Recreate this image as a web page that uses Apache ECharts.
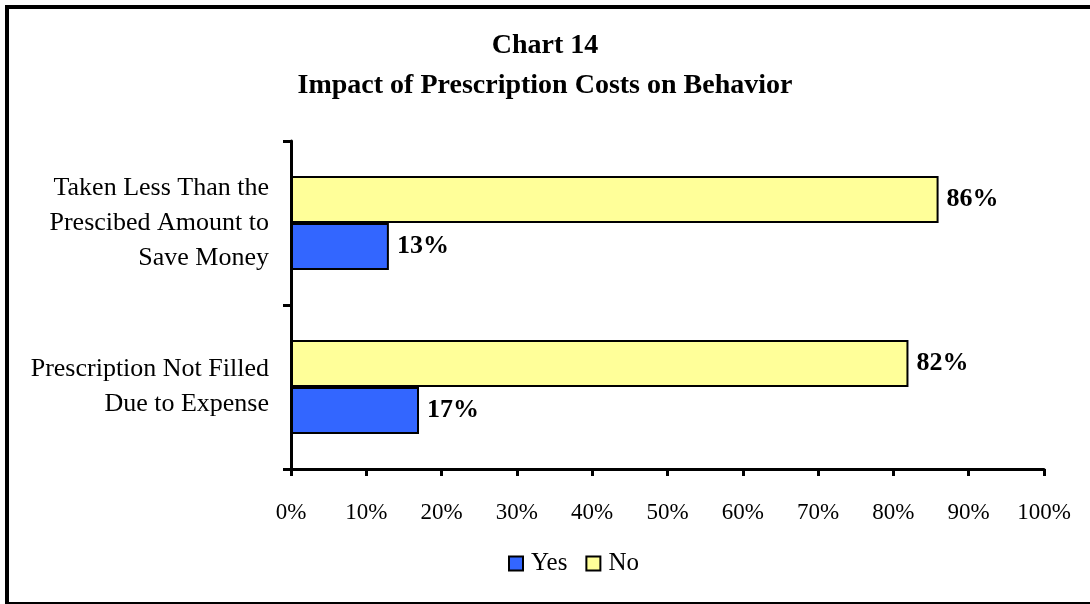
<!DOCTYPE html>
<html>
<head>
<meta charset="utf-8">
<script src="https://cdn.jsdelivr.net/npm/echarts@6/dist/echarts.min.js"></script>
<style>
  html, body { margin: 0; padding: 0; background: #fff; }
  #chart { width: 1090px; height: 604px; }
</style>
</head>
<body>
<div id="chart"></div>
<script>
// categories bottom -> top (category axis runs upward)
const categories = [
  'Prescription Not Filled\nDue to Expense',
  'Taken Less Than the\nPrescibed Amount to\nSave Money'
]
const yesValues = [17, 13]   // Yes (%)
const noValues = [82, 86]    // No (%)
const seriesNames = ['Yes', 'No']

const serif = '"Liberation Serif", "Times New Roman", serif'
const chart = echarts.init(document.getElementById('chart'))

const labelStyle = {
  show: true, position: 'right', distance: 8,
  formatter: '{c}%', color: '#000', fontFamily: serif, fontWeight: 'bold', fontSize: 26
}

chart.setOption({
  animation: false,
  title: {
    text: 'Chart 14\nImpact of Prescription Costs on Behavior',
    left: 'center', top: 21,
    textStyle: { fontFamily: serif, fontWeight: 'bold', fontSize: 28, color: '#000', lineHeight: 40 }
  },
  graphic: [{
    type: 'rect', shape: { x: 7, y: 7, width: 1100, height: 597 },
    style: { fill: 'none', stroke: '#000', lineWidth: 4 }, z: 100
  }],
  legend: {
    data: seriesNames, bottom: 23, left: 503,
    itemWidth: 14, itemHeight: 14, itemGap: 18,
    icon: 'rect',
    textStyle: { fontFamily: serif, fontSize: 25, color: '#000', padding: [0, 0, 0, 3] }
  },
  grid: { left: 291, right: 46, top: 141, bottom: 135, containLabel: false },
  xAxis: {
    type: 'value', min: 0, max: 100, interval: 10,
    axisLine: { show: true, lineStyle: { color: '#000', width: 3 } },
    axisTick: { show: true, length: 7, lineStyle: { color: '#000', width: 3 } },
    axisLabel: { formatter: '{value}%', color: '#000', fontFamily: serif, fontSize: 23, margin: 32 },
    splitLine: { show: false }
  },
  yAxis: {
    type: 'category', data: categories,
    axisLine: { show: true, lineStyle: { color: '#000', width: 3 } },
    axisTick: { show: true, length: 8, alignWithLabel: false, lineStyle: { color: '#000', width: 3 } },
    axisLabel: { color: '#000', fontFamily: serif, fontSize: 26, lineHeight: 35, margin: 22, align: 'right' }
  },
  series: [
    {
      name: 'No', type: 'bar', data: noValues,
      barWidth: 47, barGap: '0%',
      itemStyle: { color: '#FFFF99', borderColor: '#000', borderWidth: 2 },
      label: labelStyle
    },
    {
      name: 'Yes', type: 'bar', data: yesValues,
      barWidth: 47, barGap: '0%',
      itemStyle: { color: '#3366FF', borderColor: '#000', borderWidth: 2 },
      label: labelStyle
    }
  ]
})
</script>
</body>
</html>
